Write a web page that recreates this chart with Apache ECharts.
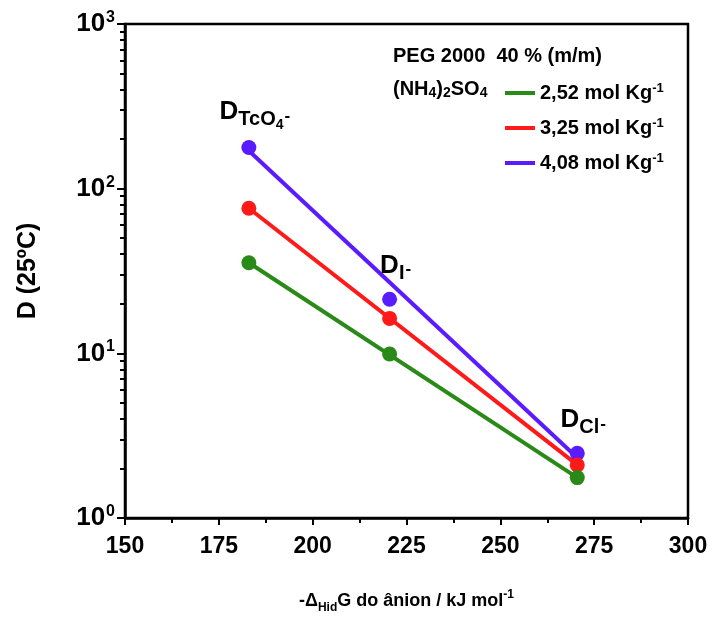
<!DOCTYPE html>
<html>
<head>
<meta charset="utf-8">
<script src="https://cdn.jsdelivr.net/npm/echarts@6/dist/echarts.min.js"></script>
<style>
  html, body { margin: 0; padding: 0; background: #fff; }
  #chart { width: 715px; height: 627px; }
</style>
</head>
<body>
<div id="chart"></div>
<script>
// Anions and their hydration free energy (-ΔHidG, kJ/mol)
const anions = ['TcO4', 'I', 'Cl'];
const hydrationEnergy = [183, 220.5, 270.5];

// (NH4)2SO4 molalities (mol/kg) and distribution coefficients D at 25 ºC
const concentrations = ['2,52', '3,25', '4,08'];
const dLow = [35.5, 9.9, 1.76];
const dMid = [76, 16.3, 2.1];
const dHigh = [178, 21.3, 2.47];

// Trend lines: D at the first and the last anion
const fitLow = [35.5, 1.76];
const fitMid = [76, 2.1];
const fitHigh = [170, 2.32];

// Axis ticks
const xTicks = [150, 175, 200, 225, 250, 275, 300];
const yDecades = [1, 10, 100, 1000];

const FONT = '"Liberation Sans", Arial, sans-serif';
const colors = ['#2a8a18', '#ff1a1a', '#5a1cff'];

const yMinor = [];
for (let d = 1; d < 1000; d *= 10) {
  for (let k = 2; k <= 9; k++) yMinor.push(k * d);
}

function pts(ys) {
  return hydrationEnergy.map((x, i) => [x, ys[i]]);
}
function fitLine(f) {
  return [[hydrationEnergy[0], f[0]], [hydrationEnergy[hydrationEnergy.length - 1], f[1]]];
}

const subLabel = {
  TcO4: '{d|D}{s|TcO}{ss|4}{p|-}',
  I: '{d|D}{s|I}{p|-}',
  Cl: '{d|D}{s|Cl}{p|-}'
};
const labelRich = {
  d: { fontFamily: FONT, fontWeight: 'bold', fontSize: 26, color: '#000' },
  s: { fontFamily: FONT, fontWeight: 'bold', fontSize: 20, color: '#000', padding: [16, 0, 0, 0] },
  ss: { fontFamily: FONT, fontWeight: 'bold', fontSize: 14, color: '#000', padding: [26, 0, 0, 0] },
  p: { fontFamily: FONT, fontWeight: 'bold', fontSize: 17, color: '#000', padding: [8, 0, 0, 1] }
};

const names = concentrations.slice();
const seriesData = [dLow, dMid, dHigh];
const fits = [fitLow, fitMid, fitHigh];

const series = [];
// trend lines
[2, 1, 0].forEach(i => {
  series.push({
    name: names[i],
    type: 'line',
    data: fitLine(fits[i]),
    symbol: 'none',
    color: colors[i],
    lineStyle: { width: 4, color: colors[i] },
    silent: true,
    z: 2
  });
});
// measured points
[2, 1, 0].forEach(i => {
  const item = {
    type: 'scatter',
    data: pts(seriesData[i]),
    symbol: 'circle',
    symbolSize: 15,
    itemStyle: { color: colors[i], opacity: 1 },
    z: 3
  };
  if (i === 2) {
    item.data = pts(seriesData[i]).map((p, j) => ({
      value: p,
      label: { formatter: subLabel[anions[j]] }
    }));
    item.label = {
      show: true,
      position: 'top',
      distance: 8,
      offset: [6, 0],
      rich: labelRich
    };
  }
  series.push(item);
});

const chart = echarts.init(document.getElementById('chart'), null, { renderer: 'canvas' });
chart.setOption({
  animation: false,
  backgroundColor: '#fff',
  grid: {
    left: 125, right: 27, top: 24, bottom: 109,
    show: true, borderColor: '#000', borderWidth: 2.5, backgroundColor: 'transparent'
  },
  legend: {
    data: names.slice(),
    orient: 'vertical',
    left: 505,
    top: 82,
    padding: 0,
    icon: 'rect',
    itemWidth: 30,
    itemHeight: 4,
    itemGap: 14,
    selectedMode: false,
    formatter: n => `{t|${n} mol Kg}{p|-1}`,
    textStyle: {
      rich: {
        t: { fontFamily: FONT, fontWeight: 'bold', fontSize: 20, color: '#000' },
        p: { fontFamily: FONT, fontWeight: 'bold', fontSize: 13, color: '#000', padding: [0, 0, 9, 0] }
      }
    }
  },
  graphic: [
    {
      type: 'text', left: 393, top: 46,
      style: { text: 'PEG 2000  40 % (m/m)', font: `bold 20px ${FONT}`, fill: '#000' }
    },
    {
      type: 'text', left: 393, top: 79,
      style: {
        text: '{a|(NH}{b|4}{a|)}{b|2}{a|SO}{b|4}',
        rich: {
          a: { fontFamily: FONT, fontWeight: 'bold', fontSize: 20, fill: '#000' },
          b: { fontFamily: FONT, fontWeight: 'bold', fontSize: 14, fill: '#000', padding: [9, 0, 0, 0] }
        }
      }
    }
  ],
  xAxis: {
    type: 'value',
    min: xTicks[0],
    max: xTicks[xTicks.length - 1],
    interval: xTicks[1] - xTicks[0],
    axisLine: { show: true, onZero: false, lineStyle: { color: '#000', width: 2.5 } },
    axisTick: { show: true, length: 7, lineStyle: { color: '#000', width: 2 } },
    minorTick: { show: true, splitNumber: 2, length: 5, lineStyle: { color: '#000', width: 2 } },
    splitLine: { show: false },
    axisLabel: { color: '#000', fontFamily: FONT, fontWeight: 'bold', fontSize: 23, margin: 17 },
    name: '{n|-Δ}{s|Hid}{n|G do ânion / kJ mol}{p|-1}',
    nameLocation: 'middle',
    nameGap: 70,
    nameTextStyle: {
      rich: {
        n: { fontFamily: FONT, fontWeight: 'bold', fontSize: 18, color: '#000' },
        s: { fontFamily: FONT, fontWeight: 'bold', fontSize: 12, color: '#000', padding: [14, 0, 0, 0] },
        p: { fontFamily: FONT, fontWeight: 'bold', fontSize: 12, color: '#000', padding: [0, 0, 12, 0] }
      }
    }
  },
  yAxis: [
    {
      type: 'log',
      logBase: 10,
      min: yDecades[0],
      max: yDecades[yDecades.length - 1],
      axisLine: { show: true, onZero: false, lineStyle: { color: '#000', width: 2.5 } },
      axisTick: { show: true, length: 8, lineStyle: { color: '#000', width: 2 }, customValues: yDecades },
      splitLine: { show: false },
      axisLabel: {
        customValues: yDecades,
        margin: 10,
        formatter: v => `{b|10}{e|${Math.round(Math.log10(v))}}`,
        rich: {
          b: { fontFamily: FONT, fontWeight: 'bold', fontSize: 26, color: '#000' },
          e: { fontFamily: FONT, fontWeight: 'bold', fontSize: 16, color: '#000', padding: [0, 0, 13, 1] }
        }
      },
      name: 'D (25ºC)',
      nameLocation: 'middle',
      nameGap: 84,
      nameTextStyle: { fontFamily: FONT, fontWeight: 'bold', fontSize: 25, color: '#000' }
    },
    {
      type: 'log',
      logBase: 10,
      min: yDecades[0],
      max: yDecades[yDecades.length - 1],
      position: 'left',
      axisLine: { show: false },
      axisTick: { show: true, length: 5, lineStyle: { color: '#000', width: 2 }, customValues: yMinor },
      axisLabel: { show: false },
      splitLine: { show: false }
    }
  ],
  series: series
});
</script>
</body>
</html>
